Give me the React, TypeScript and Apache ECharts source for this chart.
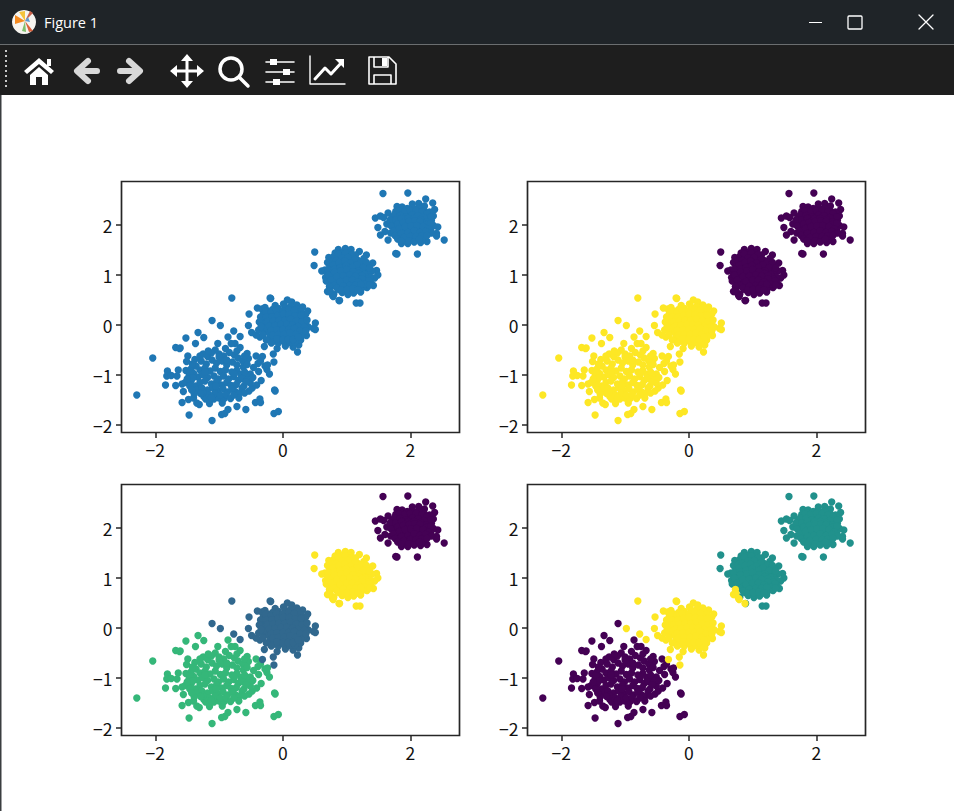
import React, { useEffect, useRef } from "react";
import * as echarts from "echarts";

type P = [number, number];

const clusterA: P[] = [
  [-2.29,-1.40],[-2.04,-0.66],[-1.84,-1.20],[-1.81,-0.92],[-1.82,-1.02],[-1.75,-1.01],[-1.64,-0.90],[-1.66,-1.02],[-1.52,-0.91],
  [-1.68,-0.45],[-1.61,-0.46],[-1.62,-0.47],[-1.52,-0.26],[-1.33,-0.15],[-1.24,-0.25],[-1.37,-0.37],[-0.86,-0.24],
  [-1.47,-1.80],[-1.11,-1.91],[-0.96,-1.79],[-0.91,-1.77],[-0.86,-1.69],[-0.72,-1.63],[-0.58,-1.69],[-0.14,-1.77],[-0.07,-1.73],
  [-0.13,-1.30],[-0.12,-1.32],[-0.43,-1.55],[-0.36,-1.48],[-0.35,-1.55],[-1.58,-1.55],[-1.48,-1.49],[-1.40,-1.46],[-1.35,-1.56],
  [-1.31,-1.59],[-1.24,-1.43],[-1.21,-1.48],[-1.15,-1.57],[-1.08,-1.48],[-1.00,-1.46],[-0.95,-1.56],[-0.92,-1.47],[-0.75,-1.33],
  [-0.68,-1.36],[-0.69,-1.46],[-0.53,-1.32],[-0.48,-1.26],[-0.51,-1.16],[-0.41,-1.20],[-0.34,-1.11],[-0.61,-1.22],[-0.21,-0.98],
  [-0.25,-0.89],[-0.28,-0.82],[-0.24,-0.80],[-0.38,-0.93],[-0.51,-0.98],[-0.42,-0.62],[-0.39,-0.77],[-0.35,-0.72],[-0.56,-0.57],
  [-0.54,-0.67],[-0.67,-0.45],[-0.75,-0.37],[-0.81,-0.37],[-0.90,-0.47],[-1.02,-0.37],[-1.06,-0.50],[-1.49,-0.62],[-1.51,-0.73],
  [-1.38,-0.69],[-1.56,-1.33],[-1.68,-1.21],[-1.58,-1.18],[-1.53,-1.15],[-1.37,-1.22],[-1.35,-1.30],
  [-1.25,-0.58],[-1.18,-0.63],[-1.12,-0.56],[-1.00,-0.58],[-0.93,-0.62],[-0.84,-0.55],[-0.76,-0.60],[-0.70,-0.66],[-0.63,-0.72],
  [-1.28,-0.72],[-1.20,-0.78],[-1.11,-0.70],[-1.04,-0.76],[-0.95,-0.72],[-0.88,-0.80],[-0.79,-0.74],[-0.72,-0.80],[-0.62,-0.84],
  [-1.44,-0.88],[-1.36,-0.82],[-1.30,-0.90],[-1.22,-0.86],[-1.14,-0.92],[-1.06,-0.86],[-0.98,-0.93],[-0.90,-0.90],[-0.80,-0.94],
  [-0.72,-0.91],[-0.66,-0.99],[-0.58,-1.03],[-1.47,-1.02],[-1.40,-0.97],[-1.33,-1.04],[-1.26,-0.99],[-1.18,-1.05],[-1.08,-1.02],
  [-1.01,-1.08],[-0.93,-1.02],[-0.85,-1.08],[-0.77,-1.03],[-0.70,-1.11],[-0.64,-1.07],[-1.44,-1.12],[-1.30,-1.15],[-1.22,-1.12],
  [-1.12,-1.18],[-1.04,-1.14],[-0.96,-1.20],[-0.88,-1.15],[-0.81,-1.21],[-0.73,-1.19],[-1.27,-1.26],[-1.18,-1.30],[-1.10,-1.25],
  [-1.02,-1.32],[-0.94,-1.27],[-0.87,-1.34],[-0.80,-1.28],[-1.16,-1.40],[-1.07,-1.37],[-0.98,-1.40],[-0.89,-1.39],[-0.56,-1.10],
  [-1.42,-0.78],[-1.46,-0.95],[-1.41,-1.06],[-1.50,-1.08],[-1.46,-1.22],[-1.30,-0.62],[-1.17,-0.52],[-0.72,-0.52],[-0.60,-0.62],
  [-0.56,-0.79],[-0.60,-0.94],[-0.46,-0.85],[-0.47,-1.05],[-0.58,-1.14],[-0.64,-1.26],[-0.60,-1.36],[-1.25,-1.35],[-1.29,-1.37],
  [-1.12,-1.45],[-0.82,-1.47],[-0.77,-1.40],[-1.39,-1.38],[-1.43,-1.30],[-1.00,-0.64],[-1.22,-0.94],[-0.88,-0.70],[-1.05,-1.22],[-0.76,-0.97],
];

const clusterB: P[] = [
  [-0.80,0.54],[-0.19,0.53],[-0.98,-0.01],[-0.77,-0.12],[-0.67,-0.23],[-0.53,0.22],[-0.54,-0.01],[-0.49,-0.15],[-0.40,0.34],
  [-0.29,-0.43],[-0.32,-0.63],[-0.15,-0.58],[-0.14,-0.74],[-0.09,-0.47],[-0.20,0.54],[0.07,0.50],[0.14,0.46],[0.31,0.36],
  [0.39,0.28],[0.33,0.16],[0.51,0.04],[0.48,-0.07],[0.51,-0.09],[0.37,-0.21],[0.25,-0.40],[0.23,-0.54],[0.16,-0.44],[0.04,-0.42],
  [-0.36,-0.24],[-0.33,0.32],[-0.28,0.35],[-0.12,0.39],[0.01,0.42],[0.22,0.40],[0.36,0.22],[-0.30,-0.12],[-0.42,-0.20],[-0.38,-0.10],
  [-0.31,0.21],[-0.24,0.28],[-0.16,0.31],[-0.07,0.33],[0.04,0.35],[0.12,0.37],[0.21,0.33],[0.28,0.27],
  [-0.30,0.12],[-0.22,0.20],[-0.13,0.24],[-0.04,0.21],[0.05,0.27],[0.14,0.25],[0.23,0.21],[0.31,0.10],
  [-0.28,0.03],[-0.20,0.11],[-0.11,0.14],[-0.02,0.12],[0.07,0.17],[0.16,0.14],[0.25,0.11],[0.36,0.04],
  [-0.25,-0.06],[-0.17,0.02],[-0.08,0.05],[0.01,0.03],[0.10,0.07],[0.19,0.03],[0.28,0.01],[0.40,-0.04],
  [-0.22,-0.15],[-0.14,-0.07],[-0.05,-0.04],[0.04,-0.06],[0.13,-0.03],[0.22,-0.07],[0.31,-0.09],
  [-0.20,-0.24],[-0.11,-0.16],[-0.02,-0.13],[0.07,-0.15],[0.16,-0.12],[0.25,-0.16],[0.33,-0.17],
  [-0.14,-0.32],[-0.05,-0.23],[0.04,-0.25],[0.12,-0.21],[0.21,-0.27],[0.28,-0.30],[-0.07,-0.36],[0.02,-0.33],[0.11,-0.35],[0.19,-0.34],
  [-0.27,0.27],[-0.19,0.24],[-0.10,0.29],[0.00,0.28],[0.09,0.31],[0.18,0.29],[0.26,0.16],[0.33,0.03],
  [-0.35,0.16],[-0.26,0.16],[-0.17,0.16],[-0.08,0.19],[0.01,0.22],[0.10,0.21],[0.19,0.18],[0.29,0.19],
  [-0.37,0.06],[-0.24,0.07],[-0.15,0.08],[-0.06,0.09],[0.03,0.09],[0.12,0.12],[0.21,0.08],[0.30,0.06],[0.38,0.10],
  [-0.34,-0.03],[-0.21,-0.02],[-0.12,-0.01],[-0.03,0.01],[0.06,0.01],[0.15,0.00],[0.24,-0.03],[0.34,-0.04],
  [-0.31,-0.20],[-0.18,-0.11],[-0.09,-0.10],[0.00,-0.09],[0.09,-0.09],[0.18,-0.07],[0.27,-0.12],[0.36,-0.12],
  [-0.26,-0.30],[-0.16,-0.20],[-0.07,-0.19],[0.02,-0.19],[0.11,-0.16],[0.20,-0.19],[0.29,-0.23],
  [-0.18,-0.36],[-0.09,-0.28],[0.00,-0.29],[0.08,-0.29],[0.16,-0.29],[0.24,-0.24],
];

const clusterBFar: P[] = [[-1.11,0.09]];

const clusterC: P[] = [
  [0.50,1.46],[0.49,1.19],[0.61,1.08],[0.67,0.95],[0.72,1.35],[0.70,1.25],[0.87,1.51],[0.98,1.53],[1.07,1.51],[1.20,1.47],
  [1.31,1.40],[1.41,1.24],[1.47,1.09],[1.49,1.00],[1.42,0.79],[1.32,0.75],[1.22,0.66],[1.02,0.61],[0.89,0.49],[1.15,0.44],[1.21,0.44],
  [0.80,0.62],[0.82,1.44],[0.80,1.37],[0.93,1.45],[1.04,1.44],[1.14,1.40],[0.66,1.10],[0.70,1.04],[0.68,0.88],
  [0.78,1.27],[0.88,1.33],[0.97,1.36],[1.08,1.32],[1.18,1.29],[1.27,1.33],[1.34,1.18],[1.40,1.08],[1.44,0.94],[1.38,0.86],
  [0.74,1.16],[0.83,1.21],[0.92,1.24],[1.01,1.26],[1.11,1.21],[1.21,1.19],[1.29,1.09],
  [0.76,1.05],[0.86,1.11],[0.95,1.14],[1.04,1.16],[1.14,1.11],[1.24,1.07],[1.33,1.02],
  [0.73,0.94],[0.82,1.00],[0.91,1.03],[1.00,1.05],[1.09,1.01],[1.19,0.97],[1.28,0.94],[1.37,0.96],
  [0.77,0.84],[0.86,0.90],[0.95,0.93],[1.04,0.95],[1.13,0.90],[1.23,0.87],[1.31,0.84],
  [0.83,0.79],[0.92,0.82],[1.01,0.85],[1.09,0.80],[1.18,0.78],[1.26,0.76],
  [0.88,0.71],[0.97,0.74],[1.05,0.70],[1.14,0.71],[1.22,0.73],[0.93,0.65],[1.02,0.67],[1.11,0.64],
  [0.87,1.42],[0.98,1.44],[1.09,1.41],[0.84,1.29],[0.93,1.34],[1.02,1.35],[1.13,1.31],[1.23,1.26],[1.31,1.25],
  [0.79,1.20],[0.88,1.25],[0.97,1.28],[1.06,1.24],[1.16,1.20],[1.26,1.15],[1.36,1.14],[0.71,1.11],[0.81,1.12],
  [0.90,1.15],[0.99,1.19],[1.09,1.15],[1.19,1.08],[1.28,1.01],[0.72,1.00],[0.81,1.06],[0.91,1.08],[1.00,1.11],
  [1.10,1.06],[1.19,1.03],[1.24,0.98],[1.33,0.92],[0.76,0.90],[0.85,0.97],[0.95,0.98],[1.05,1.00],[1.14,0.98],
  [1.24,0.92],[1.35,0.88],[0.80,0.79],[0.90,0.87],[1.00,0.90],[1.09,0.90],[1.18,0.86],[1.28,0.82],[1.36,0.80],
  [0.85,0.74],[0.95,0.78],[1.05,0.79],[1.14,0.80],[1.22,0.81],[0.92,0.70],[1.01,0.71],[1.10,0.72],[1.18,0.70],
];

const clusterCEdge: P[] = [[0.73,0.77],[0.70,0.67],[0.78,0.59],[0.88,0.49],[0.74,0.69],[0.79,0.57],[0.72,0.67]];

const clusterD: P[] = [
  [1.57,2.63],[1.96,2.64],[2.24,2.52],[2.35,2.44],[2.38,2.31],[1.45,2.14],[1.53,2.18],[1.65,2.24],[1.79,2.37],[1.87,2.36],
  [2.13,2.43],[1.49,1.95],[1.53,1.80],[1.63,2.02],[1.65,1.70],[1.69,1.84],[1.86,1.63],[1.96,1.63],[2.16,1.65],[2.26,1.67],
  [2.41,1.83],[2.41,1.78],[2.53,1.70],[2.43,1.96],[2.36,1.99],[1.77,1.43],[1.79,1.42],[2.11,1.42],[2.36,2.18],[2.33,2.09],
  [1.60,1.87],[1.58,2.15],[1.72,2.15],[2.03,2.42],[2.22,2.38],[2.30,2.26],
  [1.77,2.27],[1.86,2.30],[1.95,2.33],[2.04,2.34],[2.13,2.33],[2.22,2.28],[2.28,2.18],
  [1.72,2.05],[1.80,2.17],[1.89,2.21],[1.98,2.24],[2.07,2.24],[2.16,2.20],[2.25,2.13],
  [1.76,1.97],[1.84,2.07],[1.93,2.11],[2.02,2.14],[2.11,2.12],[2.20,2.07],[2.29,2.00],
  [1.79,1.87],[1.88,1.98],[1.97,2.02],[2.06,2.04],[2.15,2.01],[2.24,1.96],[2.32,1.90],
  [1.83,1.78],[1.92,1.88],[2.01,1.92],[2.10,1.94],[2.19,1.90],[2.28,1.84],
  [1.87,1.71],[1.96,1.79],[2.05,1.82],[2.14,1.80],[2.22,1.76],[1.93,1.69],[2.02,1.72],[2.10,1.71],[2.18,1.71],
  [1.82,2.28],[1.91,2.27],[2.00,2.29],[2.09,2.29],[2.18,2.26],[2.26,2.22],[1.75,2.20],[1.84,2.19],[1.93,2.16],
  [2.03,2.20],[2.12,2.18],[2.21,2.15],[2.32,2.16],[1.68,2.10],[1.77,2.10],[1.86,2.13],[1.97,2.13],[2.06,2.13],
  [2.16,2.11],[2.25,2.06],[1.70,1.98],[1.80,2.02],[1.89,2.05],[1.98,2.07],[2.07,2.08],[2.15,2.07],[2.25,2.01],
  [2.32,2.03],[1.74,1.88],[1.83,1.93],[1.92,1.97],[2.01,1.98],[2.10,1.99],[2.20,1.97],[2.28,1.92],[1.76,1.79],
  [1.86,1.83],[1.96,1.85],[2.06,1.88],[2.15,1.85],[2.24,1.87],[2.33,1.84],[1.80,1.72],[1.90,1.75],[2.00,1.77],
  [2.09,1.77],[2.18,1.78],[2.26,1.79],[1.85,1.68],[1.98,1.68],[2.06,1.66],[2.14,1.72],
];

const xTicks = [-2, 0, 2];
const yTicks = [-2, -1, 0, 1, 2];
const xRange: P = [-2.53, 2.77];
const yRange: P = [-2.15, 2.87];

const TAB_BLUE = "#1f77b4";
const V_PURPLE = "#440154";
const V_BLUE = "#31688e";
const V_TEAL = "#21918c";
const V_GREEN = "#35b779";
const V_YELLOW = "#fde725";

const panels: { color: string; data: P[] }[][] = [
  [{ color: TAB_BLUE, data: [...clusterA, ...clusterB, ...clusterBFar, ...clusterC, ...clusterCEdge, ...clusterD] }],
  [
    { color: V_YELLOW, data: [...clusterA, ...clusterB, ...clusterBFar] },
    { color: V_PURPLE, data: [...clusterC, ...clusterCEdge, ...clusterD] },
  ],
  [
    { color: V_GREEN, data: clusterA },
    { color: V_BLUE, data: [...clusterB, ...clusterBFar] },
    { color: V_YELLOW, data: [...clusterC, ...clusterCEdge] },
    { color: V_PURPLE, data: clusterD },
  ],
  [
    { color: V_PURPLE, data: [...clusterA, ...clusterBFar] },
    { color: V_TEAL, data: [...clusterC, ...clusterD] },
    { color: V_YELLOW, data: [...clusterB, ...clusterCEdge] },
  ],
];

const gridBoxes = [
  { left: 121.5, top: 181.5 },
  { left: 527.5, top: 181.5 },
  { left: 121.5, top: 484.5 },
  { left: 527.5, top: 484.5 },
];

const ICONS: Record<string, string> = {
  iconHome: "M39 58 L54 71 L51 74 L39 64 L27 74 L24 71 Z M47 59 H51 V66 H47 Z M30 75 L39 67 L48 75 V85 H42 V77 H36 V85 H30 Z",
  iconBack: "M97 71 H79 M88 61 L77 71 L88 81",
  iconFwd: "M120 71 H138 M129 61 L140 71 L129 81",
  iconMoveLines: "M187 58 V84 M174 71 H200",
  iconMoveHeads: "M187 54 L193 61 H181 Z M187 88 L193 81 H181 Z M170 71 L177 65 V77 Z M204 71 L197 65 V77 Z",
  iconSearch: "M242 69 A11 11 0 1 1 220 69 A11 11 0 1 1 242 69 Z M239 77 L248 86",
  iconSliders: "M266 62 H294 M266 72 H294 M266 82 H294",
  iconKnobs: "M270 59 H277 V65 H270 Z M283 69 H290 V75 H283 Z M273 79 H280 V85 H273 Z",
  iconChartAxes: "M310 56 V84 H345",
  iconChartLine: "M315 79 L325 68 L331 74 L342 62",
  iconChartHead: "M335 59 H344 V68 Z",
  iconSave: "M369 57 H389 L396 64 V84 H369 Z M374 57 V67 H388 V57 M374 84 V75 H391 V84",
  iconSaveKnob: "M382 58 H387 V66 H382 Z",
  winMax: "M849 16 H861 Q862 16 862 17 V28 Q862 29 861 29 H849 Q848 29 848 28 V17 Q848 16 849 16 Z",
  winClose: "M919 15 L933 29 M933 15 L919 29",
};
Object.entries(ICONS).forEach(([k, d]) => {
  echarts.graphic.registerShape(k, echarts.graphic.extendPath(d, {}) as any);
});

const strokeIcon = (type: string, stroke: string, lineWidth: number) => ({
  type,
  silent: true,
  style: { fill: "none", stroke, lineWidth, lineCap: "round", lineJoin: "round" },
});
const fillIcon = (type: string, fill: string) => ({ type, silent: true, style: { fill } });

const chrome: any[] = [
  { type: "rect", silent: true, shape: { x: 0, y: 0, width: 954, height: 44 }, style: { fill: "#1f2428" } },
  { type: "rect", silent: true, shape: { x: 0, y: 44, width: 954, height: 1 }, style: { fill: "#6b6e70" } },
  { type: "rect", silent: true, shape: { x: 0, y: 45, width: 954, height: 50 }, style: { fill: "#1e1e1e" } },
  { type: "rect", silent: true, shape: { x: 0, y: 95, width: 1.5, height: 716 }, style: { fill: "#3a3d40" } },
  { type: "circle", silent: true, shape: { cx: 24, cy: 22, r: 12 }, style: { fill: "#f6f4ef" } },
  { type: "polygon", silent: true, shape: { points: [[25, 21], [15, 15], [15, 24]] }, style: { fill: "#f58a1f" } },
  { type: "polygon", silent: true, shape: { points: [[25, 21], [19, 12], [25, 11]] }, style: { fill: "#f5c33b" } },
  { type: "polygon", silent: true, shape: { points: [[25, 21], [33, 31], [29, 32]] }, style: { fill: "#d9613c" } },
  { type: "polygon", silent: true, shape: { points: [[25, 21], [33, 13], [30, 11]] }, style: { fill: "#c9614a" } },
  { type: "polygon", silent: true, shape: { points: [[25, 21], [22, 31], [26, 32]] }, style: { fill: "#7fc06e" } },
  { type: "polygon", silent: true, shape: { points: [[25, 21], [30, 22], [28, 17]] }, style: { fill: "#5a9bd4" } },
  {
    type: "text", silent: true, x: 44, y: 22,
    style: { text: "Figure 1", fill: "#ffffff", font: '14.5px "Open Sans"', textVerticalAlign: "middle", verticalAlign: "middle" },
  },
  { type: "rect", silent: true, shape: { x: 809, y: 22, width: 13, height: 1 }, style: { fill: "#ffffff" } },
  strokeIcon("winMax", "#ffffff", 1.3),
  strokeIcon("winClose", "#ffffff", 1.3),
  ...[50, 55, 60, 65, 70, 75, 80, 85].map((y) => ({
    type: "rect", silent: true, shape: { x: 5, y, width: 2, height: 2 }, style: { fill: "#c9c9c9" },
  })),
  fillIcon("iconHome", "#ffffff"),
  strokeIcon("iconBack", "#d8d8d8", 6),
  strokeIcon("iconFwd", "#d8d8d8", 6),
  strokeIcon("iconMoveLines", "#ffffff", 3),
  fillIcon("iconMoveHeads", "#ffffff"),
  strokeIcon("iconSearch", "#ffffff", 3.5),
  strokeIcon("iconSliders", "#ffffff", 1.6),
  fillIcon("iconKnobs", "#ffffff"),
  strokeIcon("iconChartAxes", "#ffffff", 1.4),
  strokeIcon("iconChartLine", "#ffffff", 3),
  fillIcon("iconChartHead", "#ffffff"),
  strokeIcon("iconSave", "#ffffff", 1.6),
  fillIcon("iconSaveKnob", "#ffffff"),
];

const INK = "#262626";
const TICK_FONT = "Noto Sans CJK SC";

export default function App() {
  const ref = useRef<HTMLDivElement>(null);
  useEffect(() => {
    const chart = echarts.init(ref.current!, undefined, { renderer: "svg" });
    const minusFmt = (v: number) => String(v).replace("-", "\u2212");
    chart.setOption({
      animation: false,
      backgroundColor: "#ffffff",
      graphic: { elements: chrome },
      grid: gridBoxes.map((g) => ({
        ...g,
        width: 338,
        height: 251,
        show: true,
        borderColor: INK,
        borderWidth: 1.7,
        backgroundColor: "#ffffff",
      })),
      xAxis: gridBoxes.map((_, i) => ({
        type: "value",
        gridIndex: i,
        min: xRange[0],
        max: xRange[1],
        splitLine: { show: false },
        axisLine: { show: false, onZero: false },
        axisTick: { show: true, length: 5.5, customValues: xTicks, lineStyle: { color: INK, width: 1.5 } },
        axisLabel: {
          show: true, customValues: xTicks, formatter: minusFmt, margin: 8,
          color: "#111111", fontSize: 17.5, fontFamily: TICK_FONT,
        },
      })),
      yAxis: gridBoxes.map((_, i) => ({
        type: "value",
        gridIndex: i,
        min: yRange[0],
        max: yRange[1],
        splitLine: { show: false },
        axisLine: { show: false, onZero: false },
        axisTick: { show: true, length: 5.5, customValues: yTicks, lineStyle: { color: INK, width: 1.5 } },
        axisLabel: {
          show: true, customValues: yTicks, formatter: minusFmt, margin: 9,
          color: "#111111", fontSize: 17.5, fontFamily: TICK_FONT,
        },
      })),
      series: panels.flatMap((groups, i) =>
        groups.map((g) => ({
          type: "scatter",
          xAxisIndex: i,
          yAxisIndex: i,
          symbol: "circle",
          symbolSize: 7.4,
          itemStyle: { color: g.color, opacity: 1 },
          data: g.data,
          silent: true,
        }))
      ),
    });
    return () => chart.dispose();
  }, []);
  return <div ref={ref} style={{ position: "absolute", left: 0, top: 0, width: 954, height: 811 }} />;
}
